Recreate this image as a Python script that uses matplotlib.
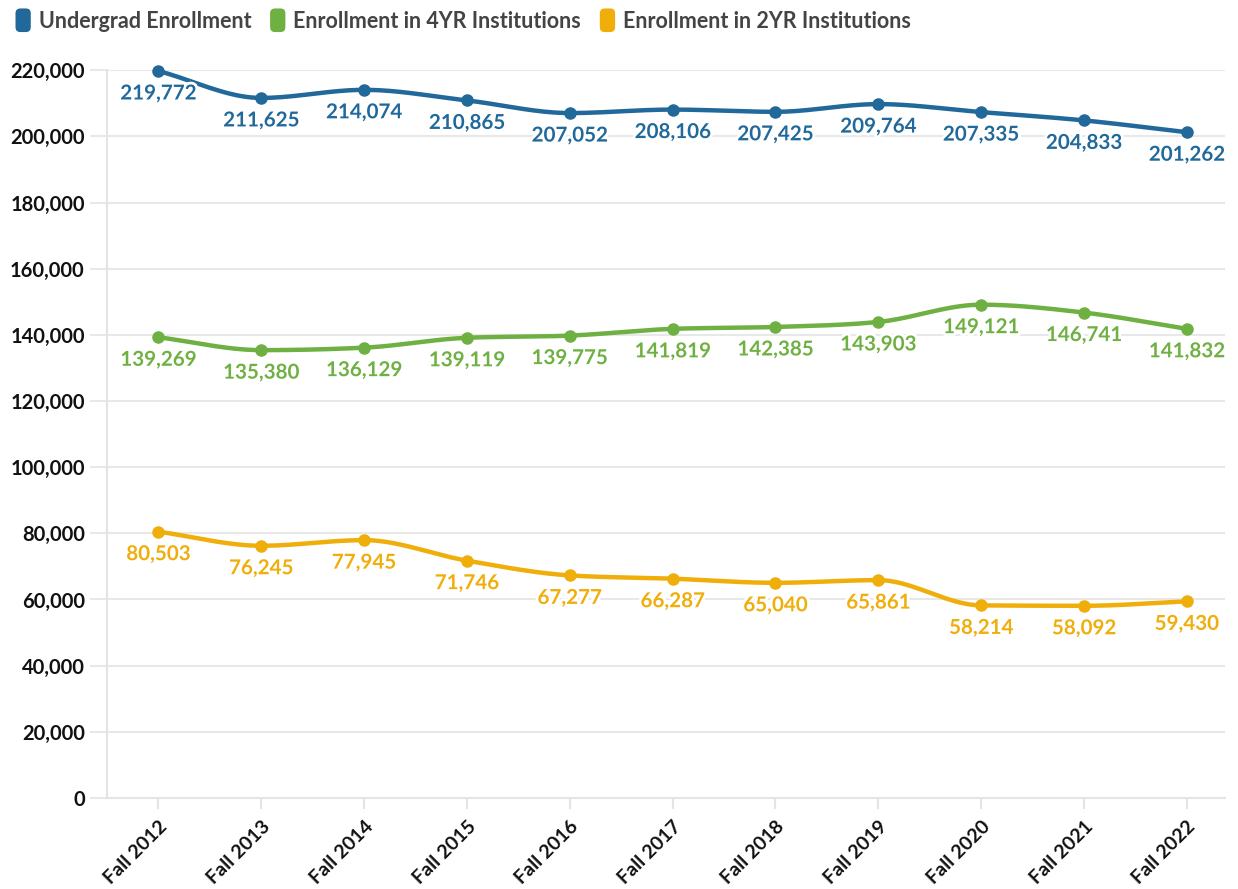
import numpy as np
import matplotlib.pyplot as plt
import matplotlib.patheffects as pe
from matplotlib.patches import Patch, FancyBboxPatch
from matplotlib.legend_handler import HandlerPatch

years = ["Fall 2012", "Fall 2013", "Fall 2014", "Fall 2015", "Fall 2016", "Fall 2017",
         "Fall 2018", "Fall 2019", "Fall 2020", "Fall 2021", "Fall 2022"]
undergrad = [219772, 211625, 214074, 210865, 207052, 208106, 207425, 209764, 207335, 204833, 201262]
four_yr = [139269, 135380, 136129, 139119, 139775, 141819, 142385, 143903, 149121, 146741, 141832]
two_yr = [80503, 76245, 77945, 71746, 67277, 66287, 65040, 65861, 58214, 58092, 59430]

series_names = ["Undergrad Enrollment", "Enrollment in 4YR Institutions", "Enrollment in 2YR Institutions"]
colors = ["#21699a", "#6fb043", "#efae0a"]

plt.rcParams['font.family'] = ['Lato', 'DejaVu Sans']


def monotone(x, y, n=20):
    # monotone cubic (Fritsch-Carlson) for smooth lines like d3 curveMonotoneX
    x = np.asarray(x, float)
    y = np.asarray(y, float)
    h = np.diff(x)
    d = np.diff(y) / h
    m = np.zeros_like(y)
    m[0], m[-1] = d[0], d[-1]
    for i in range(1, len(y) - 1):
        if d[i - 1] * d[i] <= 0:
            m[i] = 0
        else:
            m[i] = (np.sign(d[i - 1]) + np.sign(d[i])) * min(abs(d[i - 1]), abs(d[i]),
                                                            0.5 * abs((h[i - 1] * d[i] + h[i] * d[i - 1]) / (h[i - 1] + h[i])))
    xs, ys = [], []
    for i in range(len(x) - 1):
        t = np.linspace(0, 1, n, endpoint=False)
        h00 = 2 * t**3 - 3 * t**2 + 1
        h10 = t**3 - 2 * t**2 + t
        h01 = -2 * t**3 + 3 * t**2
        h11 = t**3 - t**2
        xs.append(x[i] + t * h[i])
        ys.append(h00 * y[i] + h10 * h[i] * m[i] + h01 * y[i + 1] + h11 * h[i] * m[i + 1])
    xs.append([x[-1]])
    ys.append([y[-1]])
    return np.concatenate(xs), np.concatenate(ys)


class RoundBox(HandlerPatch):
    # rounded legend swatch
    def create_artists(self, legend, orig_handle, xdescent, ydescent, width, height, fontsize, trans):
        w, hgt = 11, 17
        p = FancyBboxPatch((width / 2 - w / 2 - xdescent, height / 2 - hgt / 2 - ydescent), w, hgt,
                           boxstyle="round,pad=0,rounding_size=3.5",
                           facecolor=orig_handle.get_facecolor(), edgecolor='none', transform=trans)
        return [p]


fig = plt.figure(figsize=(12.38, 8.89), dpi=100)
ax = fig.add_axes([0.0864, 0.1024, 0.903, 0.8186])

x = np.arange(len(years))
for vals, col in zip([undergrad, four_yr, two_yr], colors):
    sx, sy = monotone(x, vals)
    ax.plot(sx, sy, color=col, lw=3.2, zorder=3, clip_on=False, solid_capstyle='round')
    ax.plot(x, vals, 'o', color=col, ms=8, zorder=4, clip_on=False)
    for xi, v in zip(x, vals):
        ax.annotate(f"{v:,}", (xi, v), xytext=(0, -9), textcoords='offset points',
                    ha='center', va='top', color=col, fontsize=14.8, fontweight='bold', zorder=5,
                    path_effects=[pe.withStroke(linewidth=4, foreground='white')])

ax.set_xlim(-0.5, 10.37)
ax.set_ylim(0, 220000)
ax.set_yticks(np.arange(0, 220001, 20000))
ax.set_yticklabels([f"{v:,}" for v in range(0, 220001, 20000)], fontsize=14.5, fontweight='bold', color='#111111')
ax.set_xticks(x)
ax.set_xticklabels(years, rotation=45, ha='right', rotation_mode='anchor', fontsize=14,
                   fontweight='bold', color='#111111')
ax.grid(axis='y', color='#e8e8e8', lw=1.5, zorder=0)
ax.set_axisbelow(True)
for s in ['top', 'right']:
    ax.spines[s].set_visible(False)
ax.spines['left'].set_color('#e4e4e4')
ax.spines['bottom'].set_color('#e4e4e4')
ax.spines['left'].set_linewidth(1.5)
ax.spines['bottom'].set_linewidth(1.5)
ax.tick_params(axis='y', length=12, color='#e8e8e8', width=1.5, pad=4)
ax.tick_params(axis='x', length=8, color='#e4e4e4', width=1.5, pad=6)

handles = [Patch(facecolor=c) for c in colors]
leg = fig.legend(handles, series_names, loc='upper left', bbox_to_anchor=(0.0, 1.005), ncol=3,
                 frameon=False, handlelength=0.75, handleheight=1.0, handletextpad=0.35,
                 columnspacing=0.85, borderaxespad=0.3,
                 handler_map={Patch: RoundBox()}, prop={'weight': 'bold', 'size': 15.5})
for t in leg.get_texts():
    t.set_color('#444444')

fig.savefig("out.png", dpi=100)
